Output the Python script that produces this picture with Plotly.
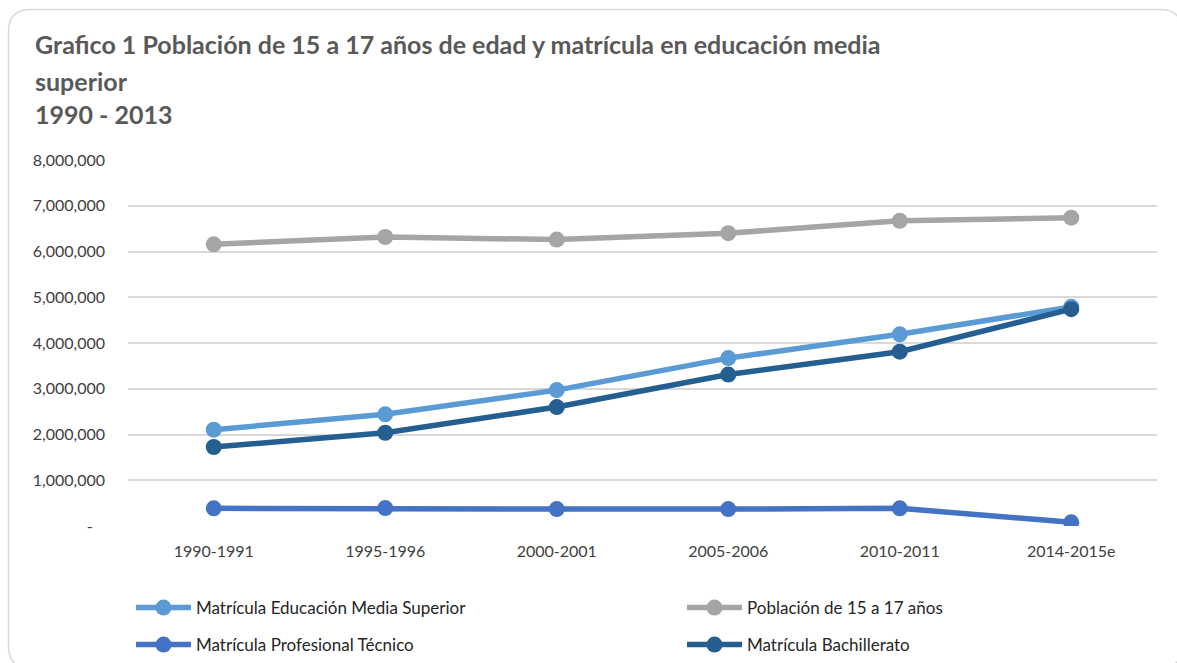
import plotly.graph_objects as go

categories = ["1990-1991", "1995-1996", "2000-2001", "2005-2006", "2010-2011", "2014-2015e"]
ems = [2105000, 2441000, 2970000, 3670000, 4190000, 4790000]
poblacion = [6157000, 6317000, 6260000, 6400000, 6670000, 6740000]
prof_tec = [387000, 392000, 370000, 370000, 387000, 80000]
bachillerato = [1727000, 2039000, 2600000, 3310000, 3810000, 4740000]

series_names = ["Matrícula Educación Media Superior", "Población de 15 a 17 años",
                "Matrícula Profesional Técnico", "Matrícula Bachillerato"]
series_values = [ems, poblacion, prof_tec, bachillerato]
series_colors = ["#5B9BD5", "#A5A5A5", "#4472C4", "#255E91"]

title_lines = ["Grafico 1 Población de 15 a 17 años de edad y matrícula en educación media",
               "superior", "1990 - 2013"]

ytick_vals = list(range(0, 8000001, 1000000))
ytick_text = [f"{v:,}" if v else "-\u00a0\u00a0\u00a0" for v in ytick_vals]

W, H = 1177, 663
L, R, T, B = 128, 20, 160, 137
PW, PH = W - L - R, H - T - B


def px(x):
    return (x - L) / PW


def py(y):
    return (H - B - y) / PH


FONT = "Lato, 'Open Sans', sans-serif"

fig = go.Figure()
legend_ids = ["legend", "legend2", "legend3", "legend4"]
for name, vals, col, lg in zip(series_names, series_values, series_colors, legend_ids):
    fig.add_trace(go.Scatter(
        x=categories, y=vals, name=name, mode="lines+markers",
        line=dict(color=col, width=5.5), marker=dict(color=col, size=16),
        legend=lg, hoverinfo="skip"))

leg_pos = [(131, 608), (682, 608), (131, 645), (682, 645)]
leg_common = dict(orientation="h", xanchor="left", yanchor="middle",
                  font=dict(family=FONT, size=17, color="#262626"),
                  bgcolor="rgba(0,0,0,0)", itemwidth=55)
layout_legends = {}
for lg, (lx, ly) in zip(legend_ids, leg_pos):
    layout_legends[lg] = dict(x=px(lx), y=py(ly), **leg_common)

annotations = []
for txt, cy in zip(title_lines, [44, 81, 114]):
    annotations.append(dict(text=f"<b>{txt}</b>", x=px(33), y=py(cy), xref="paper", yref="paper",
                            xanchor="left", yanchor="middle", showarrow=False,
                            font=dict(family=FONT, size=25, color="#595959")))

# rounded frame
r = 22
xl, yt, xr, yb = 8.5, 9.5, 1182, 668
path = (f"M {px(xl)},{py(yt + r)} Q {px(xl)},{py(yt)} {px(xl + r)},{py(yt)} "
        f"L {px(xr - r)},{py(yt)} Q {px(xr)},{py(yt)} {px(xr)},{py(yt + r)} "
        f"L {px(xr)},{py(yb - r)} Q {px(xr)},{py(yb)} {px(xr - r)},{py(yb)} "
        f"L {px(xl + r)},{py(yb)} Q {px(xl)},{py(yb)} {px(xl)},{py(yb - r)} Z")

fig.update_layout(
    width=W, height=H, autosize=False,
    margin=dict(l=L, r=R, t=T, b=B, autoexpand=False),
    paper_bgcolor="white", plot_bgcolor="white",
    showlegend=True,
    annotations=annotations,
    shapes=[dict(type="path", path=path, xref="paper", yref="paper",
                 line=dict(color="#D9D9D9", width=1.5), layer="below")],
    **layout_legends,
)
fig.update_xaxes(type="category", range=[-0.5, 5.5], showgrid=False, showline=False,
                 ticks="", ticklabelstandoff=14,
                 tickfont=dict(family=FONT, size=16, color="#404040"))
fig.update_yaxes(range=[0, 8000000], tickvals=ytick_vals, ticktext=ytick_text,
                 showgrid=True, gridcolor="#D9D9D9", gridwidth=1.5, zeroline=False,
                 showline=False, ticks="", ticklabelstandoff=22,
                 tickfont=dict(family=FONT, size=16, color="#404040"))

fig.write_html("out.html", config={"displayModeBar": False},
               post_script="document.body.style.margin='0';")
